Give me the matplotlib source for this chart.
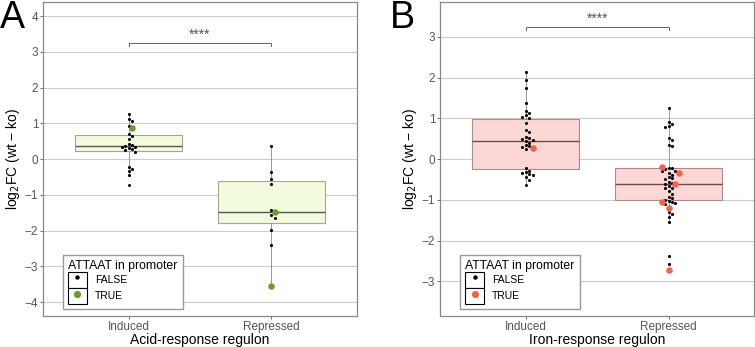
import matplotlib.pyplot as plt
import numpy as np
from matplotlib.lines import Line2D
from matplotlib.patches import Rectangle

plt.rcParams['font.family'] = ['Liberation Sans', 'DejaVu Sans']

groups = ['Induced', 'Repressed']

# panel A - acid response
a_ind_false = [1.25, 1.12, 1.06, 0.92, 0.69, 0.64, 0.55, 0.42, 0.40, 0.38, 0.35, 0.33,
               0.30, 0.28, 0.25, 0.21, -0.21, -0.29, -0.33, -0.45, -0.73]
a_ind_true = [0.86]
a_rep_false = [0.38, -0.35, -0.55, -0.69, -1.43, -1.55, -1.64, -1.97, -2.41]
a_rep_true = [-1.48, -3.55]
# q1, median, q3, whisker low, whisker high
a_box = [[0.22, 0.38, 0.68, -0.45, 1.25], [-1.80, -1.48, -0.62, -3.55, 0.38]]

# panel B - iron response
b_ind_false = [2.14, 1.94, 1.74, 1.37, 1.17, 1.12, 1.08, 1.04, 1.00, 0.88, 0.72, 0.67,
               0.54, 0.51, 0.50, 0.47, 0.45, 0.40, 0.35, 0.31, 0.29, 0.24, -0.22, -0.28,
               -0.31, -0.35, -0.37, -0.39, -0.43, -0.51, -0.63]
b_ind_true = [0.27]
b_rep_false = [1.25, 0.92, 0.85, 0.81, 0.78, 0.51, 0.47, 0.35, 0.31, -0.22, -0.23, -0.25,
               -0.28, -0.30, -0.35, -0.38, -0.45, -0.47, -0.50, -0.55, -0.58, -0.60, -0.65,
               -0.70, -0.72, -0.78, -0.85, -0.92, -0.95, -1.00, -1.02, -1.05, -1.08, -1.10,
               -1.30, -1.35, -1.42, -1.55, -2.38, -2.58]
b_rep_true = [-0.20, -0.33, -0.61, -1.04, -1.20, -2.72]
b_box = [[-0.25, 0.45, 0.99, -0.65, 2.14], [-1.00, -0.61, -0.22, -1.55, 1.25]]


def swarm(ax, xc, vals, d=3.4):
    # simple beeswarm in pixel space
    trans = ax.transData
    placed = []
    out = []
    for v in vals:
        px, py = trans.transform((xc, v))
        k = 0
        while True:
            step = (k + 1) // 2 * (1 if k % 2 else -1) if k else 0
            cx = px + step * d
            ok = all((cx - qx) ** 2 + (py - qy) ** 2 >= d * d for qx, qy in placed)
            if ok:
                break
            k += 1
        placed.append((cx, py))
        out.append(trans.inverted().transform((cx, py))[0])
    return out


def panel(ax, box, data, ylim, yticks, fill, edge, medc, truec, xlabel, letter, lx):
    ax.set_xlim(0.4, 2.6)
    ax.set_ylim(-ylim, ylim)
    ax.grid(axis='y', color='#cccccc', lw=0.8)
    ax.set_axisbelow(True)
    stats = []
    for i, b in enumerate(box):
        stats.append(dict(q1=b[0], med=b[1], q3=b[2], whislo=b[3], whishi=b[4], fliers=[]))
    ax.bxp(stats, positions=[1, 2], widths=0.75, patch_artist=True, showcaps=False,
           manage_ticks=False,
           boxprops=dict(facecolor=fill, edgecolor=edge, lw=0.8),
           medianprops=dict(color=medc, lw=1.0),
           whiskerprops=dict(color='#888888', lw=0.6))
    ax.set_xlim(0.4, 2.6)
    ax.set_ylim(-ylim, ylim)
    ax.set_yticks(yticks)
    ax.set_xticks([1, 2])
    ax.set_xticklabels(groups)
    for i, (fv, tv) in enumerate(data):
        allv = list(fv) + list(tv)
        xs = swarm(ax, i + 1, allv)
        n = len(fv)
        ax.scatter(xs[:n], fv, s=5, color='black', zorder=3, lw=0)
        ax.scatter(xs[n:], tv, s=22, color=truec, zorder=4, lw=0)
    # significance bracket
    ax.plot([1, 1, 2, 2], [3.17, 3.24, 3.24, 3.17], color='#666666', lw=0.7)
    ax.text(1.5, 3.28, '****', ha='center', va='bottom', color='#555555', fontsize=10)
    ax.set_xlabel(xlabel, fontsize=10, labelpad=0)
    ax.set_ylabel('log$_2$FC (wt − ko)', fontsize=10, labelpad=2)
    ax.tick_params(colors='#555555', labelsize=8.5, length=2.5, width=0.6, pad=1)
    for s in ax.spines.values():
        s.set_color('#888888')
        s.set_linewidth(0.9)
    h_false = (Rectangle((0, 0), 1, 1, fc='white', ec='black', lw=0.8),
               Line2D([], [], ls='', marker='o', ms=2.2, color='black'))
    h_true = (Rectangle((0, 0), 1, 1, fc='white', ec='black', lw=0.8),
              Line2D([], [], ls='', marker='o', ms=4.2, color=truec))
    leg = ax.legend([h_false, h_true], ['FALSE', 'TRUE'], title='ATTAAT in promoter',
                    loc='lower left', bbox_to_anchor=(0.064, 0.022), fontsize=7.5,
                    title_fontsize=8.8, handlelength=1.75, handleheight=2.0,
                    labelspacing=0.0, handletextpad=0.8, borderpad=0.5,
                    borderaxespad=0, fancybox=False, edgecolor='#999999', framealpha=1)
    leg._legend_box.align = 'left'
    ax.figure.text(lx, 1.0, letter, fontsize=27, va='top', ha='left')


fig = plt.figure(figsize=(7.55, 3.47), dpi=100)
axA = fig.add_axes([0.057, 0.089, 0.416, 0.905])
axB = fig.add_axes([0.583, 0.089, 0.416, 0.905])

panel(axA, a_box, [(a_ind_false, a_ind_true), (a_rep_false, a_rep_true)], 4.39,
      [-4, -3, -2, -1, 0, 1, 2, 3, 4], '#f2fbdc', '#a0a890', '#555555', '#6b9a33',
      'Acid-response regulon', 'A', 0.0)
panel(axB, b_box, [(b_ind_false, b_ind_true), (b_rep_false, b_rep_true)], 3.85,
      [-3, -2, -1, 0, 1, 2, 3], '#fdd6d6', '#a98c8c', '#6e4a4a', '#f0644e',
      'Iron-response regulon', 'B', 0.516)

fig.savefig('out.png', dpi=100)
